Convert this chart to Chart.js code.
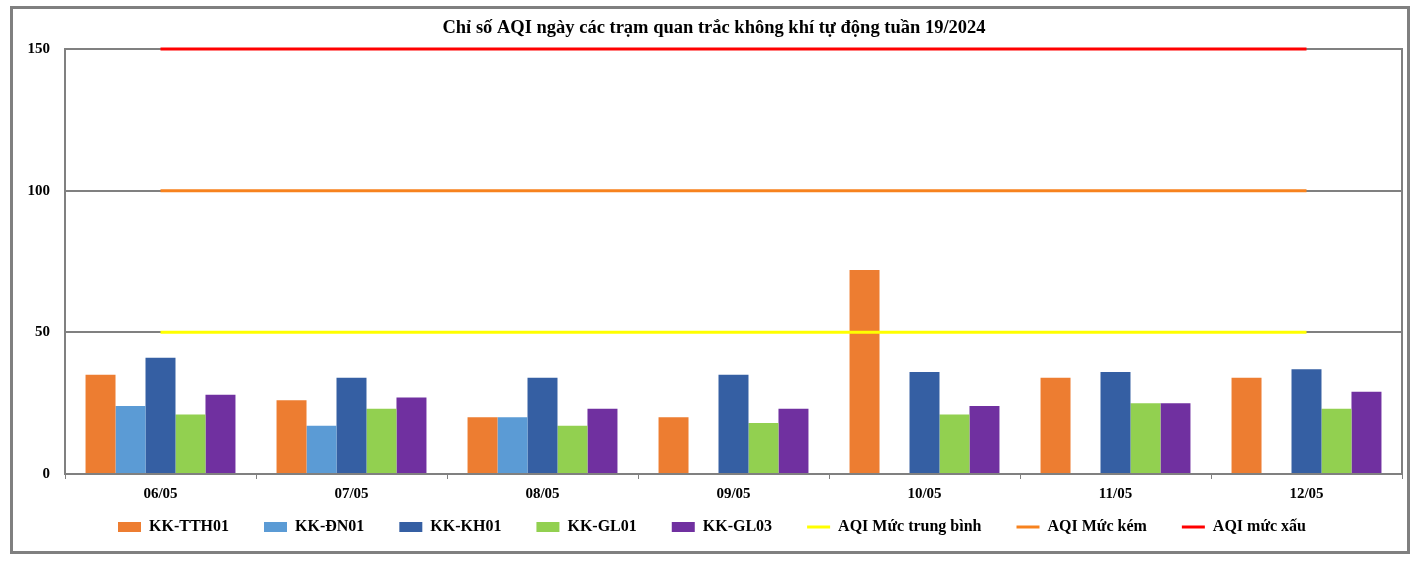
<!DOCTYPE html>
<html>
<head>
<meta charset="utf-8">
<script src="https://cdn.jsdelivr.net/npm/chart.js@4.4.1/dist/chart.umd.min.js"></script>
<style>
  html, body { margin: 0; padding: 0; background: #fff; }
  #wrap { width: 1420px; height: 562px; }
</style>
</head>
<body>
<div id="wrap"><canvas id="chart" width="1420" height="562"></canvas></div>
<script>
const categories = ['06/05', '07/05', '08/05', '09/05', '10/05', '11/05', '12/05'];
const tth01 = [35, 26, 20, 20, 72, 34, 34];
const dn01 = [24, 17, 20, null, null, null, null];
const kh01 = [41, 34, 34, 35, 36, 36, 37];
const gl01 = [21, 23, 17, 18, 21, 25, 23];
const gl03 = [28, 27, 23, 23, 24, 25, 29];
// nguong AQI
const mucTrungBinh = [50, 50, 50, 50, 50, 50, 50];
const mucKem = [100, 100, 100, 100, 100, 100, 100];
const mucXau = [150, 150, 150, 150, 150, 150, 150];
const yTicks = [0, 50, 100, 150];

const GRAY = '#808080';
Chart.defaults.font.family = "'Liberation Serif', 'Times New Roman', serif";
Chart.defaults.font.weight = 'bold';
Chart.defaults.color = '#000';

const bar = (label, data, color) => ({
  type: 'bar', label, data, backgroundColor: color, borderWidth: 0,
  barPercentage: 1, categoryPercentage: 0.785, order: 1,
});
const line = (label, data, color) => ({
  type: 'line', label, data, borderColor: color, backgroundColor: color,
  borderWidth: 3, pointRadius: 0, pointHoverRadius: 0, tension: 0, order: 0, clip: false,
});

const frames = {
  id: 'frames',
  afterLayout(chart) {
    // dich title va legend cho giong ban goc
    const t = chart.titleBlock, lg = chart.legend;
    if (t) { t.left += 13; t.right += 13; }
    if (lg) { lg.left += 11; lg.right += 11; lg.top -= 25; lg.bottom -= 25; }
  },
  beforeDatasetsDraw(chart) {
    const { ctx, chartArea: a } = chart;
    ctx.save();
    ctx.strokeStyle = GRAY;
    ctx.lineWidth = 2;
    ctx.strokeRect(a.left, a.top, a.right - a.left, a.bottom - a.top);
    ctx.restore();
  },
  afterDraw(chart) {
    const ctx = chart.ctx;
    ctx.save();
    ctx.strokeStyle = GRAY;
    ctx.lineWidth = 3;
    ctx.strokeRect(11.5, 7.5, 1397, 545);
    ctx.restore();
  }
};

new Chart(document.getElementById('chart'), {
  data: {
    labels: categories,
    datasets: [
      bar('KK-TTH01', tth01, '#ED7D31'),
      bar('KK-ĐN01', dn01, '#5B9BD5'),
      bar('KK-KH01', kh01, '#355FA3'),
      bar('KK-GL01', gl01, '#92D050'),
      bar('KK-GL03', gl03, '#7030A0'),
      line('AQI Mức trung bình', mucTrungBinh, '#FFFF00'),
      line('AQI Mức kém', mucKem, '#F7821E'),
      line('AQI mức xấu', mucXau, '#FF0000'),
    ],
  },
  options: {
    responsive: false,
    animation: false,
    devicePixelRatio: 1,
    layout: { padding: { left: 0, right: 18, top: 0, bottom: 0 } },
    scales: {
      x: {
        offset: true,
        grid: { offset: true, drawOnChartArea: false, drawTicks: true, tickLength: 5, color: GRAY, lineWidth: 1 },
        border: { color: GRAY, width: 2 },
        ticks: { font: { size: 15, weight: 'bold' }, padding: 6, color: '#000', maxRotation: 0 },
      },
      y: {
        min: 0, max: 150,
        afterBuildTicks(scale) { scale.ticks = yTicks.map(v => ({ value: v })); },
        grid: { color: GRAY, lineWidth: 2, drawTicks: false },
        border: { color: GRAY, width: 2 },
        ticks: { font: { size: 15, weight: 'bold' }, padding: 15, color: '#000' },
        afterFit(scale) { scale.width = 65; },
      },
    },
    plugins: {
      title: {
        display: true,
        text: 'Chỉ số AQI ngày các trạm quan trắc không khí tự động tuần 19/2024',
        font: { size: 18.5, weight: 'bold' },
        color: '#000',
        padding: { top: 17, bottom: 9.8 },
      },
      legend: {
        position: 'bottom',
        maxHeight: 53,
        labels: {
          usePointStyle: true,
          pointStyleWidth: 23,
          boxHeight: 10,
          padding: 35,
          font: { size: 16, weight: 'bold' },
          color: '#000',
          generateLabels(chart) {
            const items = Chart.defaults.plugins.legend.labels.generateLabels(chart);
            items.forEach(it => {
              const ds = chart.data.datasets[it.datasetIndex];
              if (ds.type === 'line') {
                it.pointStyle = 'line';
                it.lineWidth = 3;
                it.strokeStyle = ds.borderColor;
              } else {
                it.pointStyle = 'rect';
                it.lineWidth = 0;
              }
            });
            return items.sort((a, b) => a.datasetIndex - b.datasetIndex);
          },
        },
      },
      tooltip: { enabled: false },
    },
  },
  plugins: [frames],
});
</script>
</body>
</html>
